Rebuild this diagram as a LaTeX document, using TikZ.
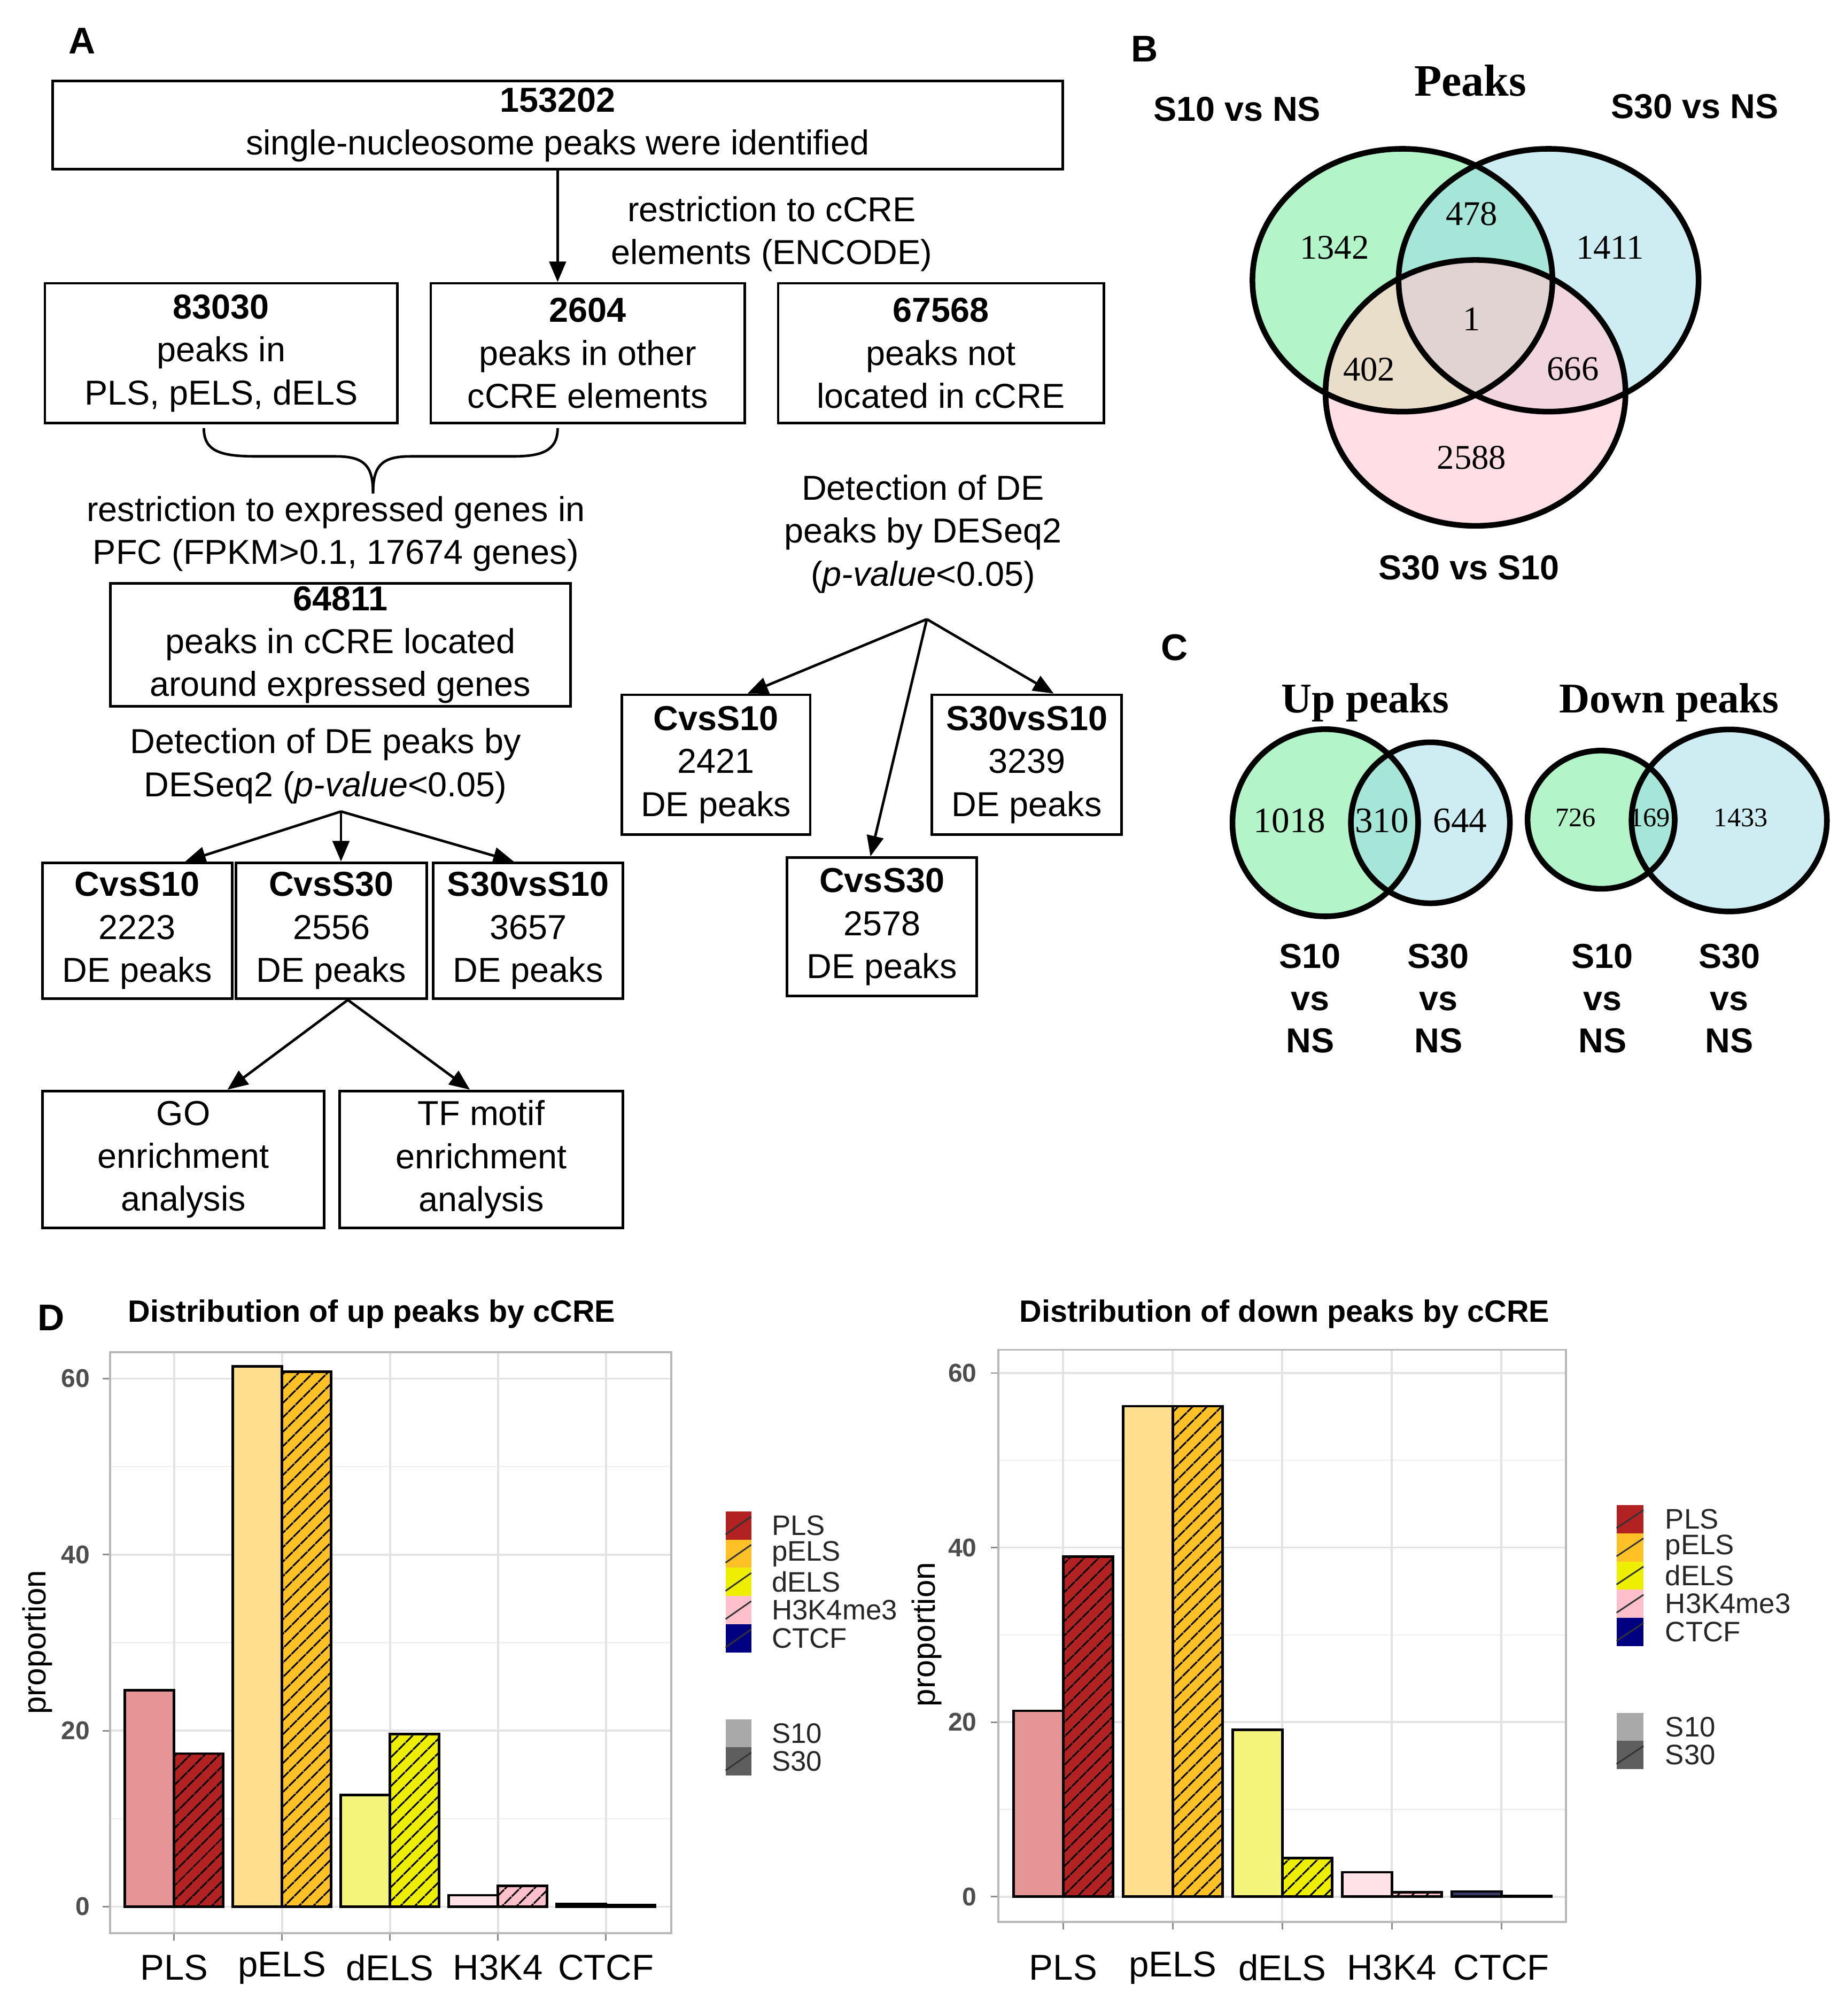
\documentclass[tikz,border=0pt]{standalone}
\usepackage{fontspec}
\setmainfont{Liberation Sans}
\newfontfamily\serifF{Liberation Serif}
\usetikzlibrary{arrows.meta,calc,patterns.meta}
\definecolor{vG}{HTML}{B3F5C8}
\definecolor{vB}{HTML}{CDEDF3}
\definecolor{vP}{HTML}{FFDFE5}
\definecolor{vGB}{HTML}{A6E6D8}
\definecolor{vGP}{HTML}{E8DEC9}
\definecolor{vBP}{HTML}{F1D6DF}
\definecolor{vGBP}{HTML}{E1D3D1}
\definecolor{plsA}{HTML}{E69597}
\definecolor{plsB}{HTML}{B22222}
\definecolor{pelsA}{HTML}{FFDF8E}
\definecolor{pelsB}{HTML}{FFC125}
\definecolor{delsA}{HTML}{F5F47A}
\definecolor{delsB}{HTML}{EEEE00}
\definecolor{hkA}{HTML}{FFE2E8}
\definecolor{hkB}{HTML}{FFC0CB}
\definecolor{ctA}{HTML}{3A3A6A}
\definecolor{ctB}{HTML}{000080}
\definecolor{gAx}{HTML}{4D4D4D}
\definecolor{gSa}{HTML}{A9A9A9}
\definecolor{gSb}{HTML}{5E5E5E}
\newcommand\VGa{(1094,218.6) ellipse [x radius=58.5pt, y radius=51.25pt]}
\newcommand\VBa{(1208,218.6) ellipse [x radius=58.5pt, y radius=51.25pt]}
\newcommand\VPa{(1151,306.5) ellipse [x radius=58.5pt, y radius=51.85pt]}
\newcommand\UGa{(1033.8,641.8) ellipse [x radius=36.2pt, y radius=36.5pt]}
\newcommand\UBa{(1115.8,641.8) ellipse [x radius=31pt, y radius=31.4pt]}
\newcommand\DGa{(1249,639.4) ellipse [x radius=28.7pt, y radius=26.95pt]}
\newcommand\DBa{(1348.9,640) ellipse [x radius=38.1pt, y radius=35.5pt]}
\tikzset{
  fc/.style={font=\fontsize{13.5}{16.75}\selectfont, align=center, inner sep=0pt},
  fbox/.style={draw, line width=1pt, fc},
  arr/.style={line width=1pt, -{Triangle[length=8pt,width=6.5pt]}},
  lett/.style={font=\fontsize{14.5}{17}\selectfont\bfseries},
  vlab/.style={font=\fontsize{13.5}{16.5}\selectfont\bfseries, align=center},
  vnum/.style={font=\serifF\fontsize{13.5}{16}\selectfont},
  vtit/.style={font=\serifF\fontsize{17.5}{20}\selectfont\bfseries},
  ctit/.style={font=\serifF\fontsize{16.5}{20}\selectfont\bfseries},
  vline/.style={line width=2.2pt},
  dtit/.style={font=\fontsize{12}{14}\selectfont\bfseries},
  tl/.style={font=\fontsize{10}{12}\selectfont\bfseries, text=gAx, anchor=east},
  xl/.style={font=\fontsize{14}{16}\selectfont},
  ylab/.style={font=\fontsize{12.5}{14}\selectfont, rotate=90},
  lg/.style={font=\fontsize{11}{12}\selectfont, anchor=west, text=black!85},
  pborder/.style={draw=black!28, line width=0.8pt},
  gmajor/.style={draw=black!11, line width=0.8pt},
  gminor/.style={draw=black!6, line width=0.5pt},
  tick/.style={draw=black!45, line width=0.6pt},
  barline/.style={draw=black, line width=1pt},
  hatch/.style={postaction={pattern={Lines[angle=45,distance=4pt,line width=0.7pt]}, pattern color=black}},
}
\begin{document}
\begin{tikzpicture}[x=0.5pt,y=-0.5pt]
\useasboundingbox (0,0) rectangle (1440,1572.6);
\fill[white] (0,0) rectangle (1440,1572.6);

% ---------------- Panel A ----------------
\node[lett] (LA) at (64,32) {A};
\node[fbox, minimum width=394pt, minimum height=34.5pt] (b1) at (435,97.5) {\textbf{153202}\\single-nucleosome peaks were identified};
\node[fbox, minimum width=137.5pt, minimum height=54.5pt] (b2) at (172.5,275.5) {\textbf{83030}\\peaks in\\PLS, pELS, dELS};
\node[fbox, minimum width=122.5pt, minimum height=54.5pt] (b3) at (458.5,275.5) {\textbf{2604}\\peaks in other\\cCRE elements};
\node[fbox, minimum width=127pt, minimum height=54.5pt] (b4) at (734,275.5) {\textbf{67568}\\peaks not\\located in cCRE};
\node[fc] (t1) at (602,182.5) {restriction to cCRE\\elements (ENCODE)};
\draw[arr] (b1.south) -- (b1.south |- b3.north);

\draw[line width=1pt] (159,334) .. controls (159,352) and (172,356) .. (200,356) -- (262,356) .. controls (285,356) and (291,364) .. (291,385);
\draw[line width=1pt] (435,334) .. controls (435,352) and (422,356) .. (400,356) -- (320,356) .. controls (297,356) and (291,364) .. (291,385);

\node[fc] (t2) at (262,416.5) {restriction to expressed genes in\\PFC (FPKM>0.1, 17674 genes)};
\node[fbox, minimum width=179.5pt, minimum height=48pt] (b5) at (265.5,503) {\textbf{64811}\\peaks in cCRE located\\around expressed genes};
\node[fc] (t3) at (254,597.5) {Detection of DE peaks by\\DESeq2 (\textit{p-value}<0.05)};
\coordinate (f1) at (266,633);
\node[fbox, minimum width=74pt, minimum height=53pt] (b6) at (107,726) {\textbf{CvsS10}\\2223\\DE peaks};
\node[fbox, minimum width=74.5pt, minimum height=53pt] (b7) at (258.5,726) {\textbf{CvsS30}\\2556\\DE peaks};
\node[fbox, minimum width=74pt, minimum height=53pt] (b8) at (412,726) {\textbf{S30vsS10}\\3657\\DE peaks};
\draw[arr] (f1) -- ($(b6.north)!0.5!(b6.north east)$);
\draw[arr] (f1) -- (f1 |- b7.north);
\draw[arr] (f1) -- ($(b8.north west)!0.85!(b8.north)$);
\node[fbox, minimum width=110pt, minimum height=53.5pt] (b9) at (143,904.5) {GO\\enrichment\\analysis};
\node[fbox, minimum width=110.5pt, minimum height=53.5pt] (b10) at (375.5,904.5) {TF motif\\enrichment\\analysis};
\coordinate (f3) at ($(b7.south)!0.17!(b7.south east)$);
\draw[arr] (f3) -- ($(b9.north)!0.31!(b9.north east)$);
\draw[arr] (f3) -- ($(b10.north)!0.08!(b10.north west)$);

\node[fc] (t4) at (720,416.5) {Detection of DE\\peaks by DESeq2\\(\textit{p-value}<0.05)};
\coordinate (f2) at (723,483);
\node[fbox, minimum width=73.5pt, minimum height=54.5pt] (b11) at (558.5,596.5) {\textbf{CvsS10}\\2421\\DE peaks};
\node[fbox, minimum width=74pt, minimum height=54.5pt] (b12) at (801,596.5) {\textbf{S30vsS10}\\3239\\DE peaks};
\node[fbox, minimum width=74pt, minimum height=54pt] (b13) at (688,723) {\textbf{CvsS30}\\2578\\DE peaks};
\draw[arr] (f2) -- ($(b11.north)!0.33!(b11.north east)$);
\draw[arr] (f2) -- ($(b13.north)!0.12!(b13.north west)$);
\draw[arr] (f2) -- ($(b12.north)!0.28!(b12.north east)$);

% ---------------- Panel B ----------------
\node[lett] (LB) at (893,38) {B};
\node[vtit] (pk) at (1147,63) {Peaks};
\node[vlab] (s1) at (965,85) {S10 vs NS};
\node[vlab] (s2) at (1322,83) {S30 vs NS};
\node[vlab] (s3) at (1146,443) {S30 vs S10};
\fill[vG] \VGa;
\fill[vB] \VBa;
\fill[vP] \VPa;
\begin{scope}\clip \VGa; \fill[vGB] \VBa; \end{scope}
\begin{scope}\clip \VGa; \fill[vGP] \VPa; \end{scope}
\begin{scope}\clip \VBa; \fill[vBP] \VPa; \end{scope}
\begin{scope}\clip \VGa; \clip \VBa; \fill[vGBP] \VPa; \end{scope}
\draw[vline] \VGa;
\draw[vline] \VBa;
\draw[vline] \VPa;
\node[vnum] (n1) at (1041,193) {1342};
\node[vnum] (n2) at (1148,167) {478};
\node[vnum] (n3) at (1256,193) {1411};
\node[vnum] (n4) at (1148,249) {1};
\node[vnum] (n5) at (1068,288) {402};
\node[vnum] (n6) at (1227,288) {666};
\node[vnum] (n7) at (1148,357) {2588};

% ---------------- Panel C ----------------
\node[lett] (LC) at (916,505) {C};
\node[ctit] (up) at (1065,548) {Up peaks};
\node[ctit] (dn) at (1302,548) {Down peaks};
\fill[vG] \UGa;
\fill[vB] \UBa;
\begin{scope}\clip \UGa; \fill[vGB] \UBa; \end{scope}
\draw[vline] \UGa;
\draw[vline] \UBa;
\fill[vG] \DGa;
\fill[vB] \DBa;
\begin{scope}\clip \DGa; \fill[vGB] \DBa; \end{scope}
\draw[vline] \DGa;
\draw[vline] \DBa;
\node[vnum, font=\serifF\fontsize{14}{16}\selectfont] (u1) at (1006,640) {1018};
\node[vnum, font=\serifF\fontsize{14}{16}\selectfont] (u2) at (1078,640) {310};
\node[vnum, font=\serifF\fontsize{14}{16}\selectfont] (u3) at (1139,640) {644};
\node[vnum, font=\serifF\fontsize{10.5}{12}\selectfont] (d1) at (1229,638) {726};
\node[vnum, font=\serifF\fontsize{10.5}{12}\selectfont] (d2) at (1287,638) {169};
\node[vnum, font=\serifF\fontsize{10.5}{12}\selectfont] (d3) at (1358,638) {1433};
\node[vlab] (c1) at (1022,779) {S10\\vs\\NS};
\node[vlab] (c2) at (1122,779) {S30\\vs\\NS};
\node[vlab] (c3) at (1250,779) {S10\\vs\\NS};
\node[vlab] (c4) at (1349,779) {S30\\vs\\NS};

% ---------------- Panel D left ----------------
\node[lett] (LD) at (40,1028) {D};
\node[dtit] (dt1) at (290,1025) {Distribution of up peaks by cCRE};
\foreach \v in {10,30,50} \draw[gminor] (86,{1487.3-6.865*\v}) -- (523.5,{1487.3-6.865*\v});
\foreach \v in {0,20,40,60} {
  \draw[gmajor] (86,{1487.3-6.865*\v}) -- (523.5,{1487.3-6.865*\v});
  \draw[tick] (80,{1487.3-6.865*\v}) -- (86,{1487.3-6.865*\v});
  \node[tl] (ly\v) at (77,{1487.3-6.865*\v}) {\v};
}
\foreach \i/\nm in {0/PLS,1/pELS,2/dELS,3/H3K4,4/CTCF} {
  \pgfmathsetmacro\cx{135.8+84.2*\i}
  \draw[gmajor] (\cx,1054.8) -- (\cx,1508);
  \draw[tick] (\cx,1508) -- (\cx,1514);
  \node[xl] (lx\i) at (\cx,1535) {\nm};
}
\draw[pborder] (86,1054.8) rectangle (523.5,1508);
\foreach \i/\a/\b/\cc in {0/24.6/17.4/pls,1/61.4/60.8/pels,2/12.7/19.6/dels,3/1.3/2.35/hk,4/0.3/0.2/ct} {
  \pgfmathsetmacro\cx{135.8+84.2*\i}
  \pgfmathsetmacro\ya{1487.3-6.865*\a}
  \pgfmathsetmacro\yb{1487.3-6.865*\b}
  \fill[\cc A] (\cx-38.3,1487.3) rectangle (\cx,\ya);
  \path[fill=\cc B, hatch] (\cx,1487.3) rectangle (\cx+38.3,\yb);
  \draw[barline] (\cx-38.3,1487.3) rectangle (\cx,\ya);
  \draw[barline] (\cx,1487.3) rectangle (\cx+38.3,\yb);
}
\node[ylab] (py1) at (29,1281) {proportion};
\foreach \k/\nm/\cc in {0/PLS/plsB,1/pELS/pelsB,2/dELS/delsB,3/H3K4me3/hkB,4/CTCF/ctB} {
  \fill[\cc] (566,{1179+22*\k}) rectangle (586,{1201+22*\k});
  \draw[line width=0.6pt, black!80] (566,{1197+22*\k}) -- (586,{1183+22*\k});
  \node[lg] (lga\k) at (595,{1190+22*\k}) {\nm};
}
\fill[gSa] (566,1341) rectangle (586,1363);
\fill[gSb] (566,1363) rectangle (586,1385);
\draw[line width=0.6pt, black!80] (566,1381) -- (586,1367);
\node[lg] (lgs1) at (595,1352) {S10};
\node[lg] (lgs2) at (595,1374) {S30};

% ---------------- Panel D right ----------------
\node[dtit] (dt2) at (1002,1025) {Distribution of down peaks by cCRE};
\foreach \v in {10,30,50} \draw[gminor] (778.9,{1479.5-6.808*\v}) -- (1221.6,{1479.5-6.808*\v});
\foreach \v in {0,20,40,60} {
  \draw[gmajor] (778.9,{1479.5-6.808*\v}) -- (1221.6,{1479.5-6.808*\v});
  \draw[tick] (772.9,{1479.5-6.808*\v}) -- (778.9,{1479.5-6.808*\v});
  \node[tl] (ry\v) at (769,{1479.5-6.808*\v}) {\v};
}
\foreach \i/\nm in {0/PLS,1/pELS,2/dELS,3/H3K4,4/CTCF} {
  \pgfmathsetmacro\cx{829.4+85.45*\i}
  \draw[gmajor] (\cx,1052.9) -- (\cx,1499.1);
  \draw[tick] (\cx,1499.1) -- (\cx,1505.1);
  \node[xl] (rx\i) at (\cx,1535) {\nm};
}
\draw[pborder] (778.9,1052.9) rectangle (1221.6,1499.1);
\foreach \i/\a/\b/\cc in {0/21.3/38.95/pls,1/56.2/56.2/pels,2/19.1/4.4/dels,3/2.8/0.5/hk,4/0.6/0.1/ct} {
  \pgfmathsetmacro\cx{829.4+85.45*\i}
  \pgfmathsetmacro\ya{1479.5-6.808*\a}
  \pgfmathsetmacro\yb{1479.5-6.808*\b}
  \fill[\cc A] (\cx-38.8,1479.5) rectangle (\cx,\ya);
  \path[fill=\cc B, hatch] (\cx,1479.5) rectangle (\cx+38.8,\yb);
  \draw[barline] (\cx-38.8,1479.5) rectangle (\cx,\ya);
  \draw[barline] (\cx,1479.5) rectangle (\cx+38.8,\yb);
}
\node[ylab] (py2) at (723,1275) {proportion};
\foreach \k/\nm/\cc in {0/PLS/plsB,1/pELS/pelsB,2/dELS/delsB,3/H3K4me3/hkB,4/CTCF/ctB} {
  \fill[\cc] (1261,{1174+22*\k}) rectangle (1282,{1196+22*\k});
  \draw[line width=0.6pt, black!80] (1261,{1192+22*\k}) -- (1282,{1178+22*\k});
  \node[lg] (lgb\k) at (1292,{1185+22*\k}) {\nm};
}
\fill[gSa] (1261,1336) rectangle (1282,1358);
\fill[gSb] (1261,1358) rectangle (1282,1380);
\draw[line width=0.6pt, black!80] (1261,1376) -- (1282,1362);
\node[lg] (lgs3) at (1292,1347) {S10};
\node[lg] (lgs4) at (1292,1369) {S30};
\end{tikzpicture}
\end{document}
